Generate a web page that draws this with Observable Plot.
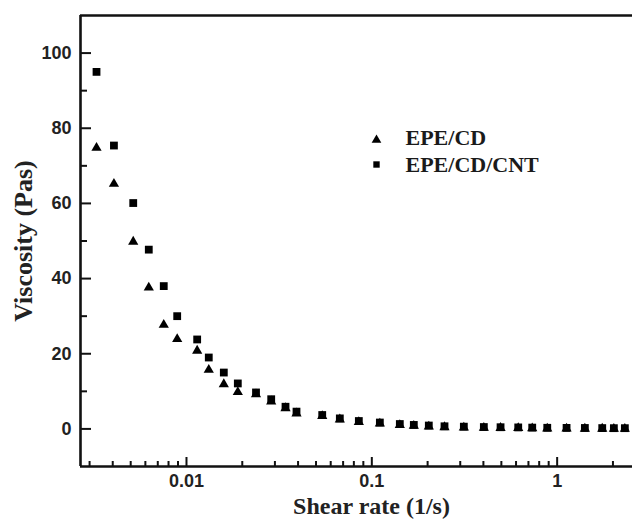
<!DOCTYPE html>
<html>
<head>
<meta charset="utf-8">
<script src="https://cdn.jsdelivr.net/npm/d3@7"></script>
<script src="https://cdn.jsdelivr.net/npm/@observablehq/plot@0.6"></script>
<style>
  html, body { margin: 0; padding: 0; background: #fff; }
</style>
</head>
<body>
<div id="chart"></div>
<script>
// Shear rate (1/s), shared by both series
const shearRate = [0.00327, 0.00406, 0.00516, 0.00626, 0.00754, 0.00891, 0.01142, 0.01319, 0.0159, 0.01892,
  0.02372, 0.02865, 0.03422, 0.03923, 0.054, 0.0672, 0.0851, 0.1105, 0.1416, 0.1685,
  0.203, 0.2467, 0.3137, 0.4022, 0.495, 0.6166, 0.7337, 0.8843, 1.124, 1.411,
  1.751, 2.023, 2.319];
// Viscosity (Pas)
const viscEPECD = [74.8, 65.2, 49.8, 37.6, 27.7, 23.9, 20.8, 15.7, 11.9, 9.8,
  9.2, 7.3, 5.5, 4.1, 3.4, 2.5, 1.8, 1.4, 1.0, 0.8,
  0.6, 0.45, 0.35, 0.3, 0.25, 0.2, 0.15, 0.1, 0.1, 0.05,
  0.05, 0.0, 0.0];
const viscEPECDCNT = [95.0, 75.4, 60.1, 47.7, 38.0, 30.0, 23.8, 19.0, 15.0, 12.1,
  9.7, 7.9, 5.9, 4.6, 3.7, 2.8, 2.1, 1.7, 1.3, 1.06,
  0.9, 0.7, 0.6, 0.5, 0.45, 0.4, 0.35, 0.3, 0.27, 0.25,
  0.22, 0.2, 0.2];

const seriesNames = ["EPE/CD", "EPE/CD/CNT"];
const seriesSymbols = ["triangle", "square"];
const seriesR = [3.8, 4.4];

const xMajor = [0.01, 0.1, 1];
const xMinor = [0.003, 0.004, 0.005, 0.006, 0.007, 0.008, 0.009,
  0.02, 0.03, 0.04, 0.05, 0.06, 0.07, 0.08, 0.09,
  0.2, 0.3, 0.4, 0.5, 0.6, 0.7, 0.8, 0.9, 2];
const yMajor = [0, 20, 40, 60, 80, 100];
const yMinor = [10, 30, 50, 70, 90];
const xDomain = [0.00268, 2.55];
const yDomain = [-10, 110];

const xTitle = "Shear rate (1/s)";
const yTitle = "Viscosity (Pas)";

const serif = "'Liberation Serif', 'Times New Roman', serif";
const sans = "'Liberation Sans', Arial, sans-serif";

const W = 632, H = 520, ML = 80, MT = 15, MB = 54, MR = 0;
const PW = W - ML - MR, PH = H - MT - MB;

// tick lengths in pixels converted to data units along the scales
const yPerPx = (yDomain[1] - yDomain[0]) / PH;
const decPerPx = Math.log10(xDomain[1] / xDomain[0]) / PW;
const yTickEnd = px => yDomain[0] + px * yPerPx;
const xTickEnd = px => xDomain[0] * Math.pow(10, px * decPerPx);

const rowsCD = shearRate.map((x, i) => ({x, y: viscEPECD[i]}));
const rowsCNT = shearRate.map((x, i) => ({x, y: viscEPECDCNT[i]}));

const legendMarks = seriesNames.flatMap((name, i) => [
  Plot.dot([name], {frameAnchor: "top-left", dx: 296, dy: 123 + i * 26 + (i === 0 ? 1.5 : 0),
    symbol: seriesSymbols[i], r: 3.6, fill: "#000", stroke: "none"}),
  Plot.text([name], {frameAnchor: "top-left", dx: 325, dy: 122 + i * 27, text: d => d,
    textAnchor: "start", lineAnchor: "middle", fontSize: 22, fontWeight: "bold",
    fontFamily: serif, fill: "#1a1a1a"})
]);

const chart = Plot.plot({
  width: W,
  height: H,
  marginLeft: ML,
  marginTop: MT,
  marginBottom: MB,
  marginRight: MR,
  style: {background: "#fff", color: "#000", overflow: "visible"},
  x: {type: "log", domain: xDomain},
  y: {domain: yDomain},
  marks: [
    // inward ticks as short rules
    Plot.ruleX(xMajor, {x: d => d, y1: yDomain[0], y2: yTickEnd(9), stroke: "#111", strokeWidth: 2}),
    Plot.ruleX(xMinor, {x: d => d, y1: yDomain[0], y2: yTickEnd(5), stroke: "#111", strokeWidth: 2}),
    Plot.ruleY(yMajor, {y: d => d, x1: xDomain[0], x2: xTickEnd(11), stroke: "#111", strokeWidth: 2}),
    Plot.ruleY(yMinor, {y: d => d, x1: xDomain[0], x2: xTickEnd(7), stroke: "#111", strokeWidth: 2}),
    // frame lines (left, top, bottom)
    Plot.ruleX([xDomain[0]], {stroke: "#111", strokeWidth: 2.6}),
    Plot.ruleY([yDomain[1]], {stroke: "#111", strokeWidth: 2.6}),
    Plot.ruleY([yDomain[0]], {stroke: "#111", strokeWidth: 2.6}),
    // tick labels
    Plot.axisX({ticks: xMajor, tickSize: 0, tickPadding: 8, label: null,
      tickFormat: d => String(d), fontSize: 18, fontWeight: "bold", fontFamily: sans, fill: "#222"}),
    Plot.axisY({ticks: yMajor, tickSize: 0, tickPadding: 9, label: null,
      fontSize: 18, fontWeight: "bold", fontFamily: sans, fill: "#222"}),
    // axis titles
    Plot.text([xTitle], {frameAnchor: "bottom", dx: 15, dy: 40, text: d => d,
      textAnchor: "middle", lineAnchor: "middle",
      fontSize: 24, fontWeight: "bold", fontFamily: serif, fill: "#222"}),
    Plot.text([yTitle], {frameAnchor: "left", dx: -57, text: d => d, rotate: -90,
      textAnchor: "middle", lineAnchor: "middle",
      fontSize: 26, fontWeight: "bold", fontFamily: serif, fill: "#222"}),
    // data
    Plot.dot(rowsCD, {x: "x", y: "y", symbol: seriesSymbols[0], r: seriesR[0], fill: "#000", stroke: "none"}),
    Plot.dot(rowsCNT, {x: "x", y: "y", symbol: seriesSymbols[1], r: seriesR[1], fill: "#000", stroke: "none"}),
    ...legendMarks
  ]
});
document.getElementById("chart").appendChild(chart);
</script>
</body>
</html>
